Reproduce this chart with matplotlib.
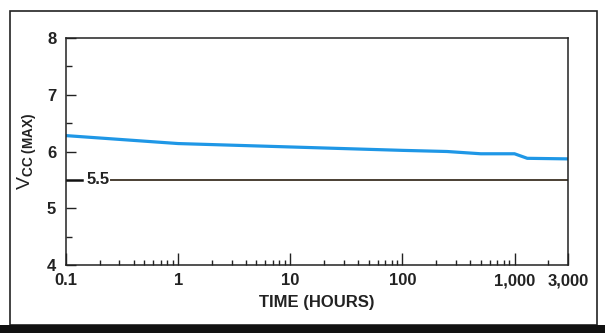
import matplotlib
matplotlib.use("Agg")
import matplotlib.pyplot as plt
from matplotlib.patches import Rectangle
from matplotlib.ticker import FixedLocator, FixedFormatter, LogLocator, NullFormatter

# ---- data ----
time_hours = [0.1, 1, 10, 100, 250, 500, 1000, 1300, 3000]
vcc_max = [6.28, 6.14, 6.08, 6.02, 6.00, 5.96, 5.96, 5.88, 5.87]
limit_value = 5.5
x_ticks = [0.1, 1, 10, 100, 1000, 3000]
x_tick_labels = ["0.1", "1", "10", "100", "1,000", "3,000"]
y_ticks = [4, 5, 6, 7, 8]
y_minor_ticks = [4.5, 6.5, 7.5]

FONT = ["Liberation Sans", "DejaVu Sans"]
plt.rcParams["font.family"] = FONT
plt.rcParams["font.weight"] = "bold"
plt.rcParams["mathtext.fontset"] = "custom"
plt.rcParams["mathtext.rm"] = "Liberation Sans:bold"
plt.rcParams["mathtext.it"] = "Liberation Sans:bold"

W, H = 605, 333
fig = plt.figure(figsize=(W / 100, H / 100), dpi=100)
fig.patch.set_facecolor("white")

# outer frame and thick bottom bar
fig.patches.append(Rectangle((10 / W, 8 / H), 587 / W, 314 / H, transform=fig.transFigure,
                             fill=False, edgecolor="#222222", linewidth=1.2))
fig.patches.append(Rectangle((0, 0), 1, 8 / H, transform=fig.transFigure,
                             facecolor="#111111", edgecolor="none"))

ax = fig.add_axes([66 / W, (H - 265) / H, (568 - 66) / W, (265 - 38) / H])
ax.set_facecolor("white")
ax.set_xscale("log")
ax.set_xlim(0.1, 3000)
ax.set_ylim(4, 8)

for s in ax.spines.values():
    s.set_linewidth(1.1)
    s.set_color("#222222")

ax.plot(time_hours, vcc_max, color="#1f97e6", linewidth=2.3, solid_capstyle="butt")

# 5.5 limit line with inline label
ax.axhline(limit_value, xmin=0.0, xmax=0.032, color="#111111", linewidth=1.8)
ax.axhline(limit_value, xmin=0.089, xmax=1.0, color="#4a3f33", linewidth=1.4)
ax.annotate("5.5", xy=(0.041, limit_value), xycoords=("axes fraction", "data"),
            ha="left", va="center", fontsize=12, fontweight="bold", color="#222222")

# y ticks
ax.yaxis.set_major_locator(FixedLocator(y_ticks))
ax.yaxis.set_minor_locator(FixedLocator(y_minor_ticks))
ax.tick_params(axis="y", which="major", direction="in", length=7.5, width=1.0,
               labelsize=12, pad=7, colors="#222222")
ax.tick_params(axis="y", which="minor", direction="in", length=4.5, width=1.0, colors="#222222")

# x ticks
ax.xaxis.set_major_locator(FixedLocator(x_ticks))
ax.xaxis.set_major_formatter(FixedFormatter(x_tick_labels))
ax.xaxis.set_minor_locator(LogLocator(base=10, subs=range(2, 10), numticks=20))
ax.xaxis.set_minor_formatter(NullFormatter())
ax.tick_params(axis="x", which="major", direction="in", length=9, width=1.0,
               labelsize=12, pad=6, colors="#222222")
ax.tick_params(axis="x", which="minor", direction="in", length=3.5, width=1.0, colors="#222222")
for lbl in ax.get_xticklabels() + ax.get_yticklabels():
    lbl.set_fontweight("bold")

ax.set_xlabel("TIME (HOURS)", fontsize=12, fontweight="bold", labelpad=5, color="#222222")
ax.set_ylabel(r"V$_{\mathrm{CC\ (MAX)}}$", fontsize=14, labelpad=6, color="#222222")

fig.savefig("out.png", dpi=100)
